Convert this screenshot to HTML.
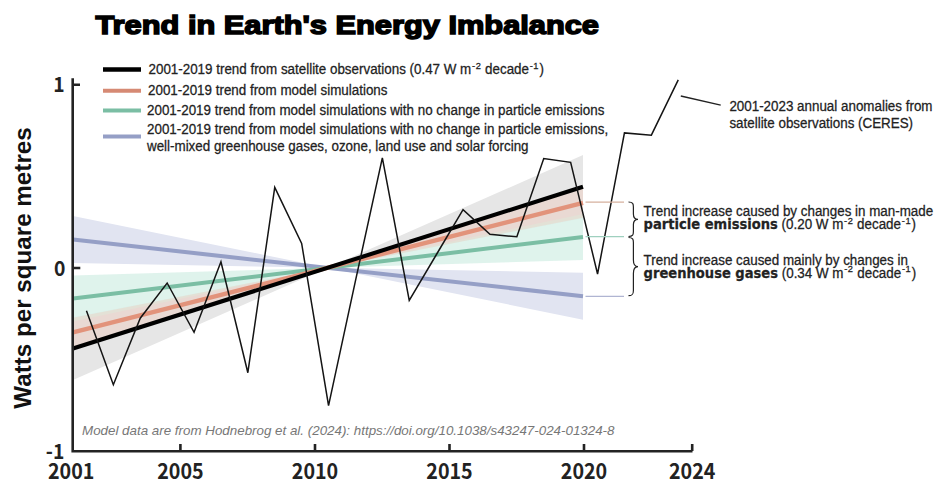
<!DOCTYPE html>
<html><head><meta charset="utf-8"><style>
html,body{margin:0;padding:0;background:#fff;width:950px;height:502px;overflow:hidden}
svg{display:block}
</style></head><body>
<svg width="950" height="502" viewBox="0 0 950 502">
<g>
<polygon points="73.0,380.0 327.5,267.8 583.0,155.1 583.0,218.5 327.5,267.8 73.0,316.9" fill="#e6e6e6"/>
<polygon points="73.0,263.0 327.5,267.8 583.0,272.7 583.0,319.7 327.5,267.8 73.0,216.1" fill="#e1e4f1"/>
<polygon points="73.0,321.4 327.5,267.8 583.0,214.0 583.0,260.0 327.5,267.8 73.0,275.6" fill="#dcf2ea" fill-opacity="0.9"/>
<polygon points="73.0,347.2 327.5,267.8 583.0,188.1 583.0,217.7 327.5,267.8 73.0,317.7" fill="#f0c0b0" fill-opacity="0.34"/>
<line x1="73.0" y1="239.6" x2="583.0" y2="296.2" stroke="#959fc6" stroke-width="4"/>
<line x1="73.0" y1="298.5" x2="583.0" y2="237.0" stroke="#7bbea4" stroke-width="4"/>
<line x1="73.0" y1="332.4" x2="583.0" y2="202.9" stroke="#e2937b" stroke-width="4.4"/>
<line x1="73.0" y1="348.5" x2="583.0" y2="186.8" stroke="#000" stroke-width="4.1"/>
<polyline points="86.45,310.8 113.35,384.7 140.25,318.2 167.15,283 194.05,332.3 220.95,261.7 247.85,372.7 274.75,187.4 301.65,243.5 328.55,405.7 355.45,280.9 382.35,157.9 409.25,300.5 436.15,255 463.05,209.6 489.95,234.3 516.85,236.8 543.75,158.6 570.65,162.3 597.55,274 624.45,132.9 651.35,135.2 678.25,79.8" fill="none" stroke="#141414" stroke-width="1.5" stroke-linejoin="miter"/>
</g>
<g stroke="#232323" stroke-width="2.6" fill="none">
<path d="M72.7,78.2 V452.6 M71.4,451.3 H692.5"/>
<path d="M72.7,84.8 H80 M72.7,268 H80.3 M180.4,444 V451 M315,444 V451 M449.5,444 V451 M584,444 V451 M692.2,444 V451"/>
</g>
<g font-family="'Noto Sans CJK JP', 'Liberation Sans', sans-serif" font-weight="bold" font-size="21" fill="#222" text-anchor="end">
<text transform="translate(64.6,92.3) scale(0.92,1)">1</text>
<text transform="translate(65.5,275.9) scale(0.92,1)">0</text>
<text transform="translate(64.4,459) scale(0.92,1)">-1</text>
</g>
<g font-family="'Noto Sans CJK JP', 'Liberation Sans', sans-serif" font-weight="bold" font-size="21.4" fill="#222" text-anchor="middle">
<text transform="translate(71.2,479.3) scale(0.92,1)">2001</text>
<text transform="translate(180.4,479.3) scale(0.92,1)">2005</text>
<text transform="translate(315,479.3) scale(0.92,1)">2010</text>
<text transform="translate(449.5,479.3) scale(0.92,1)">2015</text>
<text transform="translate(584,479.3) scale(0.92,1)">2020</text>
<text transform="translate(692.2,479.3) scale(0.92,1)">2024</text>
</g>
<text transform="translate(30.5,408.7) rotate(-90)" font-family="Liberation Sans, sans-serif" font-weight="bold" font-size="24.2" fill="#111">Watts per square metres</text>
<text x="95.5" y="34.0" font-family="Liberation Sans, sans-serif" font-weight="bold" font-size="25.9" fill="#000" stroke="#000" stroke-width="1.5" textLength="503.5" lengthAdjust="spacingAndGlyphs">Trend in Earth's Energy Imbalance</text>
<g stroke-width="4" stroke-linecap="butt">
<line x1="103" y1="69.6" x2="141" y2="69.6" stroke="#000" stroke-width="4.5"/>
<line x1="103" y1="90.7" x2="141" y2="90.7" stroke="#d68a74"/>
<line x1="103" y1="110.6" x2="141" y2="110.6" stroke="#7bbea4"/>
<line x1="103" y1="136.5" x2="141" y2="136.5" stroke="#959fc6"/>
</g>
<g font-family="Liberation Sans, sans-serif" font-size="13.4" fill="#222" stroke="#222" stroke-width="0.25">
<text transform="translate(148.5,74.1) scale(1,1.05)">2001-2019 trend from satellite observations (0.47 W m<tspan dy="-5" dx="0.8" font-size="9.3" letter-spacing="0.5">-2</tspan><tspan dy="5"> decade</tspan><tspan dy="-5" dx="0.8" font-size="9.3" letter-spacing="0.5">-1</tspan><tspan dy="5" dx="0.4">)</tspan></text>
<text transform="translate(148,94.6) scale(1,1.05)">2001-2019 trend from model simulations</text>
<text transform="translate(147,114.5) scale(1,1.05)">2001-2019 trend from model simulations with no change in particle emissions</text>
<text transform="translate(147,134.2) scale(1,1.05)">2001-2019 trend from model simulations with no change in particle emissions,</text>
<text transform="translate(147,151.4) scale(1,1.05)">well-mixed greenhouse gases, ozone, land use and solar forcing</text>
<text transform="translate(729.4,111) scale(1,1.05)">2001-2023 annual anomalies from</text>
<text transform="translate(729.4,127.7) scale(1,1.05)">satellite observations (CERES)</text>
<text transform="translate(643.6,216) scale(1,1.05)">Trend increase caused by changes in man-made</text>
<text transform="translate(643.6,228.9) scale(1,1.05)"><tspan font-family="DejaVu Sans, sans-serif" font-weight="bold" font-size="13.1">particle emissions</tspan> (0.20 W m<tspan dy="-5" dx="0.8" font-size="9.3" letter-spacing="0.5">-2</tspan><tspan dy="5"> decade</tspan><tspan dy="-5" dx="0.8" font-size="9.3" letter-spacing="0.5">-1</tspan><tspan dy="5" dx="0.4">)</tspan></text>
<text transform="translate(643.6,264.7) scale(1,1.05)">Trend increase caused mainly by changes in</text>
<text transform="translate(643.6,277.5) scale(1,1.05)"><tspan font-family="DejaVu Sans, sans-serif" font-weight="bold" font-size="13.1">greenhouse gases</tspan> (0.34 W m<tspan dy="-5" dx="0.8" font-size="9.3" letter-spacing="0.5">-2</tspan><tspan dy="5"> decade</tspan><tspan dy="-5" dx="0.8" font-size="9.3" letter-spacing="0.5">-1</tspan><tspan dy="5" dx="0.4">)</tspan></text>
</g>
<text x="82" y="435" font-family="Liberation Sans, sans-serif" font-style="italic" font-size="13.37" fill="#777">Model data are from Hodnebrog et al. (2024): https://doi.org/10.1038/s43247-024-01324-8</text>
<line x1="680.8" y1="96" x2="720.7" y2="105.2" stroke="#222" stroke-width="1.3"/>
<g stroke-width="1.2">
<line x1="585.5" y1="202.1" x2="624" y2="202.1" stroke="#d6b09e"/>
<line x1="585.5" y1="236.7" x2="624" y2="236.7" stroke="#9fd0bf"/>
<line x1="585.5" y1="296.4" x2="624" y2="296.4" stroke="#b0b5d2"/>
</g>
<g fill="none" stroke="#222" stroke-width="1.2">
<path d="M628.5,202 C633,202 633.4,204 633.4,207 V214 C633.4,217 634,219.3 638,219.3 C634,219.3 633.4,221.6 633.4,224.6 V231.5 C633.4,234.5 633,236.5 628.5,236.5"/>
<path d="M628.5,237.5 C633,237.5 633.4,239.5 633.4,242.5 V260 C633.4,264 634,266.7 638,266.7 C634,266.7 633.4,269.4 633.4,273.4 V290.5 C633.4,293.5 633,295.7 628.5,295.7"/>
</g>
</svg>
</body></html>
